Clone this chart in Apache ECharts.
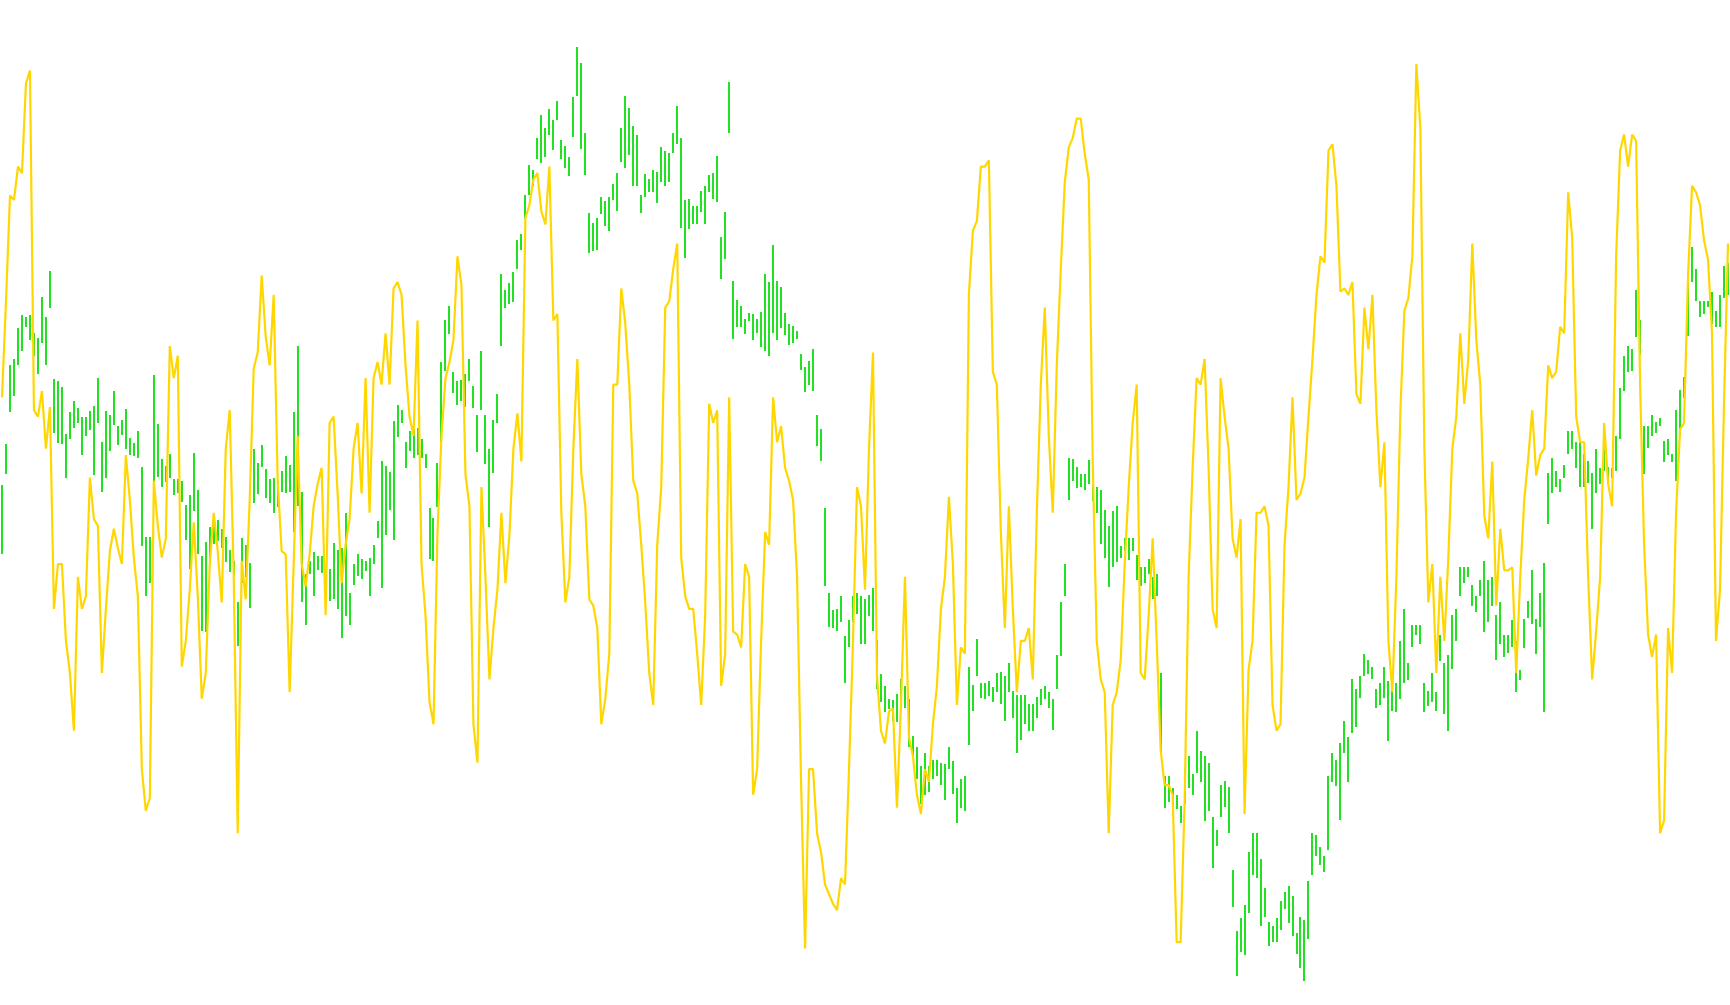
<!DOCTYPE html>
<html>
<head>
<meta charset="utf-8">
<script src="https://cdn.jsdelivr.net/npm/echarts@6/dist/echarts.min.js"></script>
<style>
html,body{margin:0;padding:0;background:#ffffff;}
#chart{width:1730px;height:1005px;}
</style>
</head>
<body>
<div id="chart"></div>
<script>
// Indicator plotted on an inverted "depth" scale (0 = top of pane, 1568 = bottom)
const scaleMax = 1568;

// Green range bars: upper end and lower end (depth units)
const barTop = [
757,693,570,560,512,492,494,491,520,527,463,495,423,591,594,604,677,643,626,637,651,651,641,633,590,690,641,647,610,665,656,638,684,691,672,729,
838,838,585,662,716,727,708,748,748,750,788,772,707,765,868,845,823,806,812,825,838,858,875,940,840,850,878,700,722,695,732,748,745,750,735,711,726,
643,540,768,895,875,862,868,868,890,888,847,858,855,800,925,880,865,872,875,870,850,813,720,727,736,657,632,640,690,672,670,668,685,708,793,808,
722,565,500,477,580,595,593,583,560,602,648,548,648,700,655,615,428,452,442,425,375,365,305,258,265,215,180,200,170,188,158,218,228,245,152,73,
98,207,332,348,340,308,313,307,287,270,200,150,168,197,210,305,272,280,265,268,230,235,238,207,165,215,312,310,322,322,298,290,273,270,243,370,330,128,438,468,477,497,488,490,498,487,428,440,383,438,448,488,505,508,517,553,573,563,545,647,670,793,925,952,950,930,992,968,930,925,930,935,928,
918,998,1052,1070,1090,1092,1082,1060,1070,1090,1148,1165,1195,1175,1195,1185,1185,1190,1192,1165,1188,1230,1215,1210,1040,1068,997,1065,1065,1062,1072,1050,1048,1055,1035,1078,1085,1085,1085,1098,1098,1088,1075,1070,1080,1090,1022,940,880,715,716,728,740,740,718,758,760,765,795,820,798,790,852,840,840,840,866,885,885,872,900,895,
1050,1210,1210,1230,1240,1258,1200,1180,1208,1140,1172,1180,1190,1275,1295,1225,1218,1228,1357,1452,1432,1412,1330,1300,1300,1340,1385,1438,1445,1432,1405,1392,1383,1398,1455,1430,1435,1375,1300,1302,1322,1335,1210,1175,1185,1160,1125,1150,1060,1075,1055,1020,1030,1040,1075,1066,1040,1062,1060,1065,1000,950,1035,975,975,975,1065,1078,1050,1080,990,1035,1022,
960,950,885,885,885,912,930,905,875,905,900,960,940,990,990,968,1000,1045,965,938,890,965,925,878,738,715,735,748,725,672,672,690,690,708,720,738,700,730,700,728,730,680,605,555,540,545,452,500,665,665,648,658,652,688,685,708,640,608,588,425,385,420,470,470,470,455,485,460,415,410
];
const barBottom = [
865,740,643,618,570,548,510,530,556,583,535,570,481,675,691,693,745,685,668,660,710,680,670,740,660,768,745,703,663,694,680,700,710,712,714,852,
930,910,765,745,760,752,745,773,770,783,842,888,798,865,985,985,880,848,845,855,877,892,897,1008,910,900,948,785,770,730,778,785,800,790,768,768,768,
830,790,940,975,895,930,890,895,945,938,935,950,995,960,975,912,900,903,890,930,880,840,918,835,795,842,682,660,730,703,715,710,715,730,872,875,
790,690,580,520,612,632,625,635,595,637,705,640,725,822,738,660,540,480,475,472,420,390,342,305,290,248,255,245,210,235,188,248,262,275,215,150,
232,273,395,392,390,335,352,360,312,330,253,263,242,290,290,333,308,300,300,316,285,290,283,238,225,355,403,357,350,350,330,350,300,310,315,435,403,208,528,510,510,520,500,530,520,542,548,555,520,530,512,522,537,535,530,578,612,600,610,695,720,915,978,980,985,970,1065,1010,970,958,1005,1005,960,
985,1075,1095,1110,1105,1125,1125,1090,1105,1165,1180,1215,1255,1240,1235,1215,1210,1225,1248,1200,1240,1285,1260,1265,1162,1108,1055,1088,1090,1085,1095,1080,1098,1125,1080,1120,1175,1155,1130,1140,1140,1120,1100,1090,1105,1138,1075,1025,930,780,750,760,760,765,755,782,800,850,870,915,885,878,870,860,875,860,905,915,910,895,935,930,
1175,1260,1250,1265,1262,1285,1255,1230,1240,1205,1220,1282,1265,1355,1320,1275,1258,1300,1415,1522,1485,1490,1425,1365,1370,1445,1430,1475,1470,1470,1450,1418,1440,1460,1488,1510,1530,1465,1365,1335,1350,1360,1325,1220,1225,1280,1175,1220,1145,1135,1090,1055,1052,1058,1105,1100,1088,1155,1110,1110,1090,1065,1062,1010,990,1005,1110,1102,1095,1110,1030,1115,1140,
1045,1000,930,910,900,945,955,930,985,970,945,1030,1005,1025,1018,1010,1080,1060,1010,965,975,1020,978,1110,818,770,760,768,745,708,700,730,760,760,755,825,768,755,735,750,745,735,685,610,580,580,525,555,740,700,680,675,665,720,710,720,750,680,620,525,440,470,495,490,480,505,510,510,465,460
];

// Gold line (depth units)
const lineVals = [
620,470,305,312,260,270,130,110,640,650,610,700,635,950,880,880,1000,1050,1140,900,950,930,745,810,820,1050,950,860,825,855,880,710,780,870,930,1200,
1265,1245,750,820,870,840,540,590,555,1040,1000,920,815,930,1090,1050,880,800,860,940,700,640,900,1300,875,935,780,575,550,430,525,570,460,750,860,865,1080,
880,680,880,915,865,790,755,730,960,660,650,770,910,850,810,700,660,770,590,800,590,565,600,520,600,450,440,460,570,650,680,500,880,960,1095,1130,
830,680,590,565,530,400,445,740,790,1130,1190,760,900,1060,980,920,800,910,835,700,645,720,340,320,280,270,330,350,260,500,490,800,940,900,700,560,
740,790,935,945,980,1130,1090,1020,600,600,450,505,600,750,770,850,940,1050,1100,850,760,480,470,420,380,870,930,950,950,1020,1100,960,630,660,640,1070,1020,620,985,990,1010,880,900,1240,1200,1000,830,850,620,690,665,730,750,780,900,1220,1480,1200,1200,1300,1330,1380,1395,1410,1420,1370,1380,1200,1000,760,790,920,700,
550,1055,1140,1160,1110,1105,1260,1100,900,1150,1180,1240,1270,1200,1220,1130,1070,950,900,775,880,1100,1010,1020,460,360,345,260,260,250,580,600,830,980,790,950,1080,1000,1000,980,1060,800,600,480,680,800,570,420,285,230,215,185,185,240,280,720,1000,1060,1080,1300,1100,1080,1030,880,760,660,600,1050,1060,960,840,1000,
1170,1225,1225,1240,1470,1470,1250,900,730,590,600,560,730,950,980,590,650,700,840,870,810,1270,1045,1000,800,800,790,820,1100,1140,1130,850,760,620,780,770,745,650,560,460,400,410,235,225,290,455,450,460,440,615,630,480,545,460,640,760,690,1000,1080,900,640,485,465,400,100,200,700,940,880,1050,900,1000,870,
700,650,520,630,560,380,530,600,805,840,720,945,825,890,890,885,1050,900,780,715,640,742,710,700,570,590,580,510,520,300,370,650,690,690,900,1060,985,900,660,755,790,400,235,210,260,210,220,600,850,990,1025,990,1300,1280,980,1050,800,670,660,430,290,300,320,375,405,520,1000,920,630,380
];

const categories = lineVals.map((_, i) => String(i + 1));
const rangeData = barTop.map((t, i) => [i, t, barBottom[i]]);

const chart = echarts.init(document.getElementById('chart'), null, {renderer: 'canvas'});
chart.setOption({
  animation: false,
  backgroundColor: '#ffffff',
  grid: {left: 0, right: 0, top: 0, bottom: 0},
  xAxis: {type: 'category', data: categories, boundaryGap: true, show: false},
  yAxis: {type: 'value', min: 0, max: scaleMax, inverse: true, show: false},
  series: [
    {
      type: 'custom',
      data: rangeData,
      encode: {x: 0, y: [1, 2]},
      z: 2,
      renderItem: function (params, api) {
        const a = api.coord([api.value(0), api.value(1)]);
        const b = api.coord([api.value(0), api.value(2)]);
        const x = Math.round(a[0]) - 1;
        const y = Math.round(Math.min(a[1], b[1]));
        const h = Math.max(1, Math.round(Math.abs(b[1] - a[1])));
        return {
          type: 'rect',
          shape: {x: x, y: y, width: 2, height: h},
          style: {fill: '#22e022'}
        };
      }
    },
    {
      type: 'line',
      data: lineVals,
      showSymbol: false,
      symbol: 'none',
      z: 3,
      lineStyle: {color: '#FFD700', width: 2.2}
    }
  ]
});
</script>
</body>
</html>
